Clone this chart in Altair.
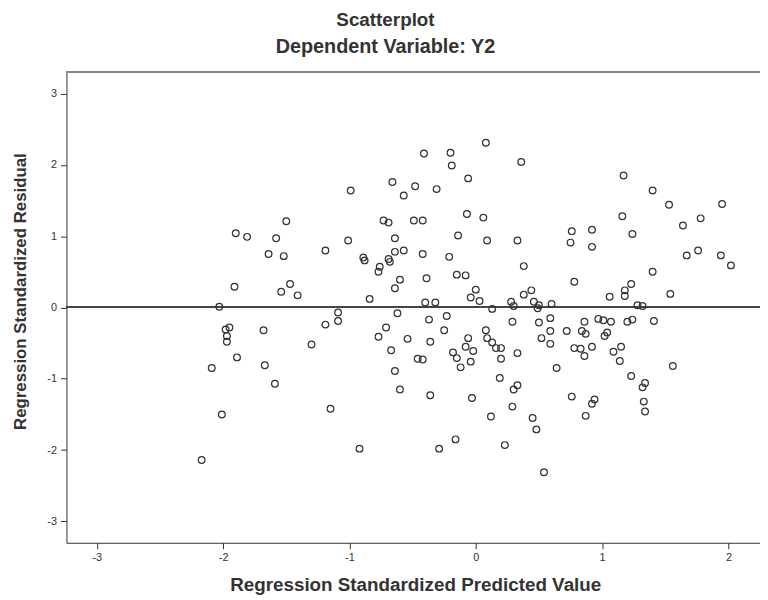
import altair as alt
import pandas as pd

# Regression standardized predicted value (x) and residual (y)
pred = [
    -1.50, -1.90, -1.81, -1.58, -1.64, -1.52, -1.19, -1.91, -1.47, -1.54, -1.41, -2.03,
    0.08, -0.41, -0.20, -0.19, -0.06, -0.66, -0.99, -0.48, -0.57, -0.31, -0.73, -0.69,
    -0.49, -0.42, -0.07, 0.06, -1.01, -0.64, -0.14, 0.09, -0.89, -0.88, -0.64, -0.57,
    -0.69, -0.68, -0.76, -0.77, -0.42, -0.21, -0.60, -0.64, -0.39, -0.15, -0.08, -0.84,
    -0.40, -0.32, 0.00, -0.04, 0.03,
    0.36, 1.17, 1.16, 1.24, 0.33, 0.76, 0.92, 0.75, 0.92, 0.38, 0.78, 1.23, 0.44, 0.38,
    0.28, 0.46, 0.50, 0.30, 0.60, 0.13, 1.06, 1.18, 1.18, 0.49,
    1.40, 1.53, 1.95, 1.78, 1.64, 1.67, 1.76, 1.94, 2.02, 1.40, 1.54, 1.28, 1.32,
    -1.09, -1.09, -1.19, -1.98, -1.95, -1.97, -1.97, -1.68, -1.30, -1.89, -2.09, -1.67,
    -1.59, -1.15, -2.01, -2.17,
    -0.62, -0.37, -0.23, -0.25, -0.71, -0.77, -0.54, -0.36, -0.67, -0.46, -0.42, -0.06,
    -0.08, -0.02, -0.18, -0.15, -0.12, -0.04, 0.08, 0.09, 0.13, -0.64, -0.60, -0.36,
    -0.03, -0.92, -0.29, -0.16,
    0.29, 0.50, 0.59, 0.59, 0.52, 0.59, 0.72, 0.86, 0.84, 0.87, 0.97, 1.01, 1.07, 1.04,
    1.02, 1.20, 1.24, 0.16, 0.20, 0.20, 0.33, 0.78, 0.83, 0.92, 0.86, 1.09, 1.15, 1.14,
    0.64, 1.23, 0.19, 0.30, 0.33, 0.76, 0.92, 0.94, 0.29, 0.12, 0.45, 0.48, 0.87, 0.23,
    0.54,
    1.41, 1.56, 1.34, 1.32, 1.33, 1.34,
]
resid = [
    1.21, 1.04, 0.99, 0.97, 0.75, 0.72, 0.80, 0.29, 0.33, 0.22, 0.17, 0.01,
    2.31, 2.16, 2.17, 1.99, 1.81, 1.76, 1.64, 1.70, 1.57, 1.66, 1.22, 1.19,
    1.22, 1.22, 1.31, 1.26, 0.94, 0.97, 1.01, 0.94, 0.70, 0.66, 0.78, 0.80,
    0.68, 0.64, 0.57, 0.50, 0.75, 0.71, 0.39, 0.27, 0.41, 0.46, 0.45, 0.12,
    0.07, 0.07, 0.25, 0.14, 0.09,
    2.04, 1.85, 1.28, 1.03, 0.94, 1.07, 1.09, 0.91, 0.85, 0.58, 0.36, 0.33, 0.24, 0.18,
    0.08, 0.08, 0.03, 0.02, 0.05, -0.02, 0.15, 0.24, 0.16, -0.01,
    1.64, 1.44, 1.45, 1.25, 1.15, 0.73, 0.80, 0.73, 0.59, 0.50, 0.19, 0.03, 0.02,
    -0.07, -0.19, -0.24, -0.31, -0.28, -0.40, -0.48, -0.32, -0.52, -0.70, -0.85, -0.81,
    -1.07, -1.42, -1.50, -2.14,
    -0.08, -0.17, -0.12, -0.32, -0.28, -0.41, -0.44, -0.48, -0.60, -0.72, -0.73, -0.43,
    -0.55, -0.61, -0.63, -0.71, -0.84, -0.76, -0.32, -0.43, -0.49, -0.89, -1.15, -1.23,
    -1.27, -1.98, -1.98, -1.85,
    -0.20, -0.21, -0.15, -0.33, -0.43, -0.51, -0.33, -0.20, -0.33, -0.37, -0.16, -0.18,
    -0.20, -0.35, -0.40, -0.20, -0.17, -0.57, -0.57, -0.72, -0.64, -0.57, -0.58, -0.55,
    -0.68, -0.62, -0.55, -0.75, -0.85, -0.96, -0.99, -1.15, -1.09, -1.25, -1.35, -1.29,
    -1.39, -1.53, -1.55, -1.71, -1.52, -1.93, -2.31,
    -0.19, -0.82, -1.06, -1.12, -1.32, -1.46,
]
x_ticks = [-3, -2, -1, 0, 1, 2]
y_ticks = [-3, -2, -1, 0, 1, 2, 3]

df = pd.DataFrame({"pred": pred, "resid": resid})

FONT = "Liberation Sans"
INK = "#333333"
LABEL = "'' + datum.value"  # plain hyphen-minus, as in the reference

x_scale = alt.Scale(domain=[-3.24, 2.25], nice=False, zero=False)
y_scale = alt.Scale(domain=[-3.3, 3.3], nice=False, zero=False)

x_axis = alt.Axis(
    values=x_ticks, labelExpr=LABEL, grid=False,
    title="Regression Standardized Predicted Value",
    titleFont=FONT, titleFontSize=19, titleFontWeight="bold", titleColor=INK,
    titleX=352, titleY=48, titleBaseline="alphabetic",
    labelFont=FONT, labelFontSize=11, labelColor=INK, labelPadding=3,
    tickColor=INK, tickSize=6, domainColor=INK, labelFlush=False,
)
y_axis = alt.Axis(
    values=y_ticks, labelExpr=LABEL, grid=False,
    title="Regression Standardized Residual",
    titleFont=FONT, titleFontSize=17, titleFontWeight="bold", titleColor=INK,
    titleX=-46, titleY=221, titleBaseline="middle", titleAngle=-90,
    labelFont=FONT, labelFontSize=11, labelColor=INK, labelPadding=4,
    tickColor=INK, tickSize=6, domainColor=INK, labelFlush=False,
)

points = alt.Chart(df).mark_point(
    shape="circle", filled=False, size=46, stroke="#333333", strokeWidth=1.2, opacity=1
).encode(
    x=alt.X("pred:Q", scale=x_scale, axis=x_axis),
    y=alt.Y("resid:Q", scale=y_scale, axis=y_axis),
)

zero_line = alt.Chart(df).mark_rule(color="#444444", strokeWidth=1).encode(
    y=alt.datum(0)
)

top_border = alt.Chart(df).mark_rule(color="#888888", strokeWidth=1).encode(
    y=alt.value(0)
)

chart = alt.layer(top_border, zero_line, points).properties(
    width=700,
    height=475,
    autosize=alt.AutoSizeParams(type="none"),
    padding={"left": 59, "top": 62, "right": 0, "bottom": 55},
    title=alt.TitleParams(
        text="Scatterplot",
        subtitle="Dependent Variable: Y2",
        font=FONT, fontSize=19, fontWeight="bold", color=INK,
        subtitleFont=FONT, subtitleFontSize=20, subtitleFontWeight="bold",
        subtitleColor=INK, subtitlePadding=7,
        anchor="middle", offset=15, dx=-28,
    ),
).configure_view(stroke=None)

chart.save("out.html", embed_options={"renderer": "svg", "actions": False})
